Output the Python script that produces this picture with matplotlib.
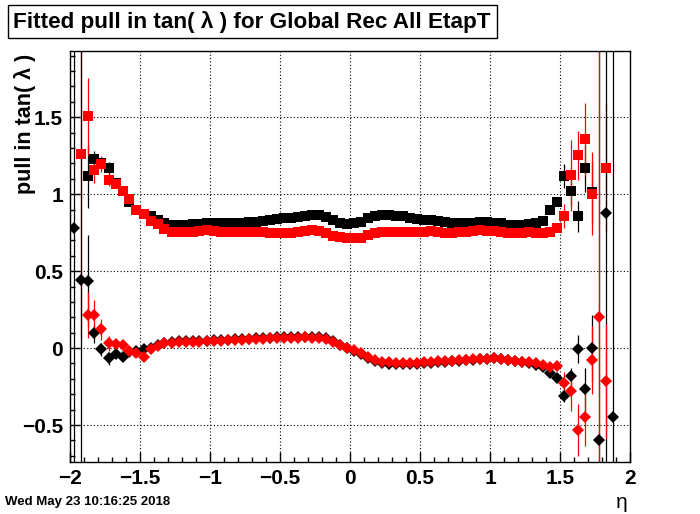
import numpy as np
import matplotlib
matplotlib.use('Agg')
import matplotlib.pyplot as plt
from matplotlib.patches import Rectangle
from matplotlib.ticker import MultipleLocator

nan = np.nan
BIG = 5.0  # error bars that run off the whole frame

# 80 eta bins from -2 to 2
eta = np.arange(80) * 0.05 - 1.975

# upper series: pull width (squares)
black_sq = [nan, nan, 1.117, 1.23, 1.20, 1.167, 1.07, 1.02, 0.95, 0.896,
            0.87, 0.857, 0.83, 0.81, 0.80, 0.80, 0.80, 0.803, 0.807, 0.814,
            0.814, 0.814, 0.814, 0.81, 0.814, 0.816, 0.82, 0.827, 0.835, 0.837,
            0.842, 0.848, 0.853, 0.861, 0.866, 0.864, 0.853, 0.83, 0.814, 0.807,
            0.81, 0.82, 0.842, 0.859, 0.866, 0.866, 0.861, 0.857, 0.848, 0.84,
            0.835, 0.83, 0.825, 0.818, 0.814, 0.81, 0.81, 0.814, 0.816, 0.816,
            0.814, 0.81, 0.80, 0.797, 0.797, 0.805, 0.814, 0.824, 0.896, 0.952,
            1.117, 1.02, 0.857, 1.167, 1.015, nan, nan, nan, nan, nan]
black_sq_err = [0, 0, 0.21, 0.05, 0.04, 0.04, 0.03] + [0.005] * 63 + \
               [0.08, 0.09, 0.10, 0.15, 0.20, 0, 0, 0, 0, 0]

red_sq = [nan, 1.26, 1.506, 1.16, 1.195, 1.095, 1.069, 1.02, 0.968, 0.90,
          0.868, 0.826, 0.803, 0.771, 0.755, 0.751, 0.751, 0.753, 0.758, 0.766,
          0.76, 0.755, 0.755, 0.755, 0.755, 0.755, 0.755, 0.755, 0.75, 0.75,
          0.75, 0.75, 0.755, 0.76, 0.766, 0.76, 0.745, 0.727, 0.719, 0.715,
          0.712, 0.716, 0.734, 0.745, 0.755, 0.755, 0.755, 0.755, 0.755, 0.755,
          0.755, 0.76, 0.755, 0.749, 0.745, 0.751, 0.755, 0.76, 0.766, 0.76,
          0.758, 0.755, 0.749, 0.745, 0.745, 0.751, 0.749, 0.745, 0.755, 0.781,
          0.857, 1.123, 1.253, 1.355, 1.004, nan, 1.173, nan, nan, nan]
red_sq_err = [0, 1.2, 0.25, 0.09, 0.05, 0.04, 0.03] + [0.005] * 63 + \
             [0.08, 0.23, 0.16, 0.24, 0.27, 0, 0.41, 0, 0, 0]

# lower series: pull mean (diamonds)
black_dm = [0.777, 0.44, 0.437, 0.095, -0.009, -0.067, -0.041, -0.056, -0.028, -0.02,
            -0.009, -0.002, 0.019, 0.03, 0.039, 0.043, 0.045, 0.046, 0.047, 0.049,
            0.051, 0.053, 0.055, 0.057, 0.059, 0.061, 0.064, 0.066, 0.068, 0.07,
            0.071, 0.072, 0.072, 0.073, 0.072, 0.07, 0.064, 0.045, 0.02, 0.0,
            -0.016, -0.04, -0.062, -0.082, -0.097, -0.101, -0.103, -0.103, -0.102, -0.101,
            -0.099, -0.096, -0.093, -0.09, -0.087, -0.083, -0.08, -0.076, -0.072, -0.068,
            -0.066, -0.068, -0.076, -0.085, -0.093, -0.1, -0.108, -0.12, -0.163, -0.195,
            -0.312, -0.182, -0.006, -0.268, -0.002, -0.597, 0.88, -0.45, nan, nan]
black_dm_err = [BIG, BIG, 0.3, 0.06, 0.04, 0.04, 0.02] + [0.005] * 63 + \
               [0.04, 0.05, 0.09, 0.14, 0.22, BIG, BIG, BIG, 0, 0]

red_dm = [nan, nan, 0.214, 0.214, 0.121, 0.03, 0.024, 0.019, -0.022, -0.035,
          -0.056, -0.008, 0.013, 0.03, 0.035, 0.039, 0.04, 0.041, 0.041, 0.043,
          0.046, 0.048, 0.05, 0.052, 0.054, 0.057, 0.06, 0.062, 0.064, 0.066,
          0.067, 0.068, 0.068, 0.069, 0.068, 0.066, 0.06, 0.042, 0.02, 0.003,
          -0.013, -0.035, -0.056, -0.075, -0.088, -0.093, -0.095, -0.095, -0.095, -0.094,
          -0.092, -0.09, -0.087, -0.085, -0.082, -0.079, -0.076, -0.073, -0.071, -0.069,
          -0.067, -0.07, -0.075, -0.082, -0.088, -0.093, -0.1, -0.11, -0.121, -0.115,
          -0.225, -0.279, -0.532, -0.446, -0.078, 0.204, -0.214, nan, nan, nan]
red_dm_err = [0, 0, 0.15, 0.1, 0.07, 0.05, 0.02] + [0.005] * 63 + \
             [0.07, 0.13, 0.17, 0.19, 0.22, BIG, 0.37, 0, 0, 0]

xtick_vals = [-2, -1.5, -1, -0.5, 0, 0.5, 1, 1.5, 2]
xtick_labels = ['\u22122', '\u22121.5', '\u22121', '\u22120.5', '0', '0.5', '1', '1.5', '2']
ytick_vals = [-0.5, 0, 0.5, 1, 1.5]
ytick_labels = ['\u22120.5', '0', '0.5', '1', '1.5']

plt.rcParams['font.family'] = ['Liberation Sans', 'DejaVu Sans']

fig = plt.figure(figsize=(7.0, 5.14), dpi=100)
ax = fig.add_axes([0.1, 0.1012, 0.8, 0.7996])

kw = dict(linestyle='none', elinewidth=0.9, capsize=0)
ax.errorbar(eta, black_sq, yerr=black_sq_err, fmt='s', color='black', ms=7, mew=0, **kw)
ax.errorbar(eta, red_sq, yerr=red_sq_err, fmt='s', color='red', ms=7, mew=0, **kw)
ax.errorbar(eta, black_dm, yerr=black_dm_err, fmt='D', color='black', ms=5.8, mew=0, **kw)
ax.errorbar(eta, red_dm, yerr=red_dm_err, fmt='D', color='red', ms=5.8, mew=0, **kw)

ax.set_xlim(-2, 2)
ax.set_ylim(-0.74, 1.93)
ax.set_xticks(xtick_vals)
ax.set_xticklabels(xtick_labels, fontweight='bold')
ax.set_yticks(ytick_vals)
ax.set_yticklabels(ytick_labels, fontweight='bold')
ax.xaxis.set_minor_locator(MultipleLocator(0.1))
ax.yaxis.set_minor_locator(MultipleLocator(0.1))
ax.grid(True, which='major', color='black', linestyle=(0, (1, 2)), linewidth=0.8)
ax.tick_params(which='both', direction='in', top=False, right=False, width=1)
ax.tick_params(which='major', length=7, labelsize=15, pad=5)
ax.tick_params(which='minor', length=3.5)
for s in ax.spines.values():
    s.set_linewidth(1)

fig.text(25 / 700, 1 - 54 / 514, 'pull in tan( \u03bb )', fontsize=15.5, fontweight='bold',
         rotation=90, ha='center', va='top')
fig.text(622 / 700, 2 / 514, '\u03b7', fontsize=15, ha='center', va='bottom')

# title pave
fig.patches.append(Rectangle((8 / 700, 1 - 38 / 514), 489 / 700, 33 / 514,
                             transform=fig.transFigure, facecolor='white',
                             edgecolor='black', linewidth=1))
fig.text(13 / 700, 1 - 22 / 514, 'Fitted pull in tan( \u03bb ) for Global Rec All EtapT',
         fontsize=16.2, fontweight='bold', ha='left', va='center')

fig.text(5 / 700, 6 / 514, 'Wed May 23 10:16:25 2018', fontsize=9.5, fontweight='bold',
         ha='left', va='bottom')

fig.savefig('out.png', dpi=100)
